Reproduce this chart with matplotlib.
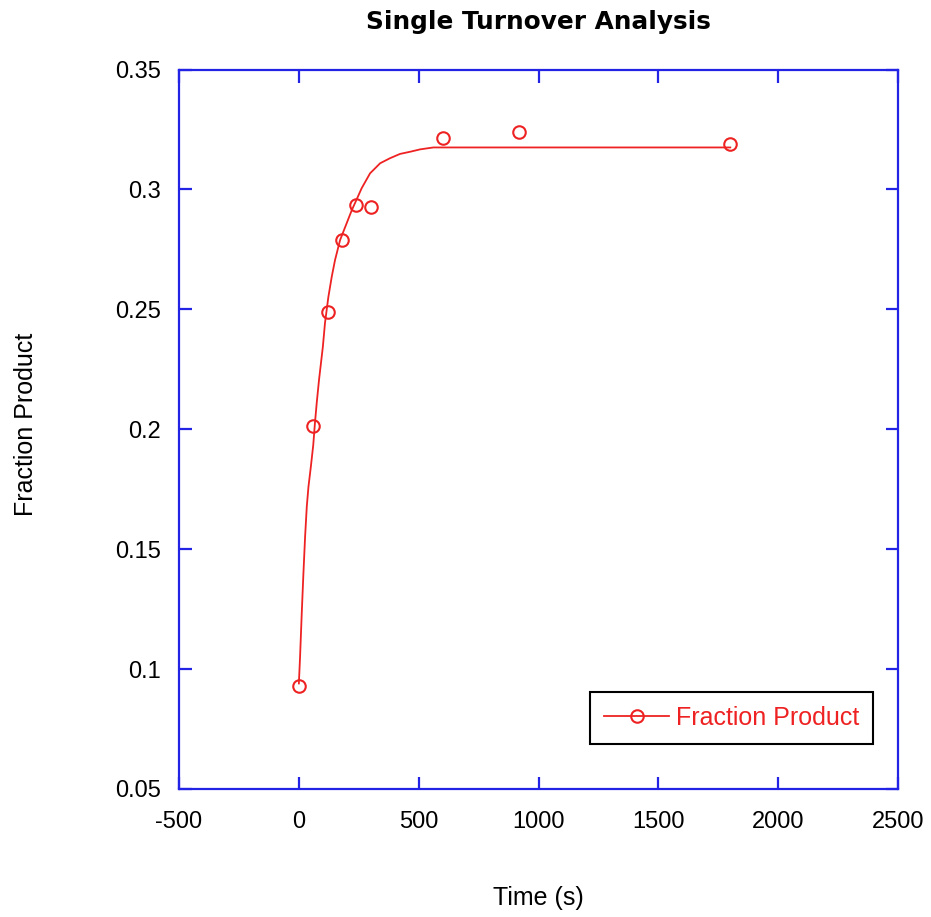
import matplotlib
matplotlib.use("Agg")
import matplotlib.pyplot as plt
from matplotlib.lines import Line2D
from matplotlib.ticker import FuncFormatter

# measured points
time_s = [0, 60, 120, 180, 240, 300, 600, 920, 1800]
fraction_product = [0.093, 0.2015, 0.249, 0.279, 0.2935, 0.2925, 0.3215, 0.324, 0.319]

# fit curve
fit_time = [0, 5, 12, 19, 26, 33, 40, 50, 60, 67, 75, 84, 100, 109, 123, 137,
            151, 172, 221, 241, 262, 297, 339, 380, 422, 464, 506, 561, 756, 1800]
fit_fraction = [0.094, 0.1051, 0.1232, 0.1399, 0.1552, 0.1677, 0.176, 0.1844,
                 0.1934, 0.2025, 0.2115, 0.2205, 0.2343, 0.2443, 0.2551, 0.2635,
                 0.2706, 0.2789, 0.2914, 0.2958, 0.3005, 0.3067, 0.3109, 0.313,
                 0.3148, 0.3157, 0.3167, 0.3175, 0.3175, 0.3175]

x_ticks = [-500, 0, 500, 1000, 1500, 2000, 2500]
y_ticks = [0.05, 0.1, 0.15, 0.2, 0.25, 0.3, 0.35]

RED = "#ee2222"
BLUE = "#2323e6"
FONT = ["Liberation Sans", "DejaVu Sans"]

plt.rcParams["font.family"] = FONT
plt.rcParams["axes.unicode_minus"] = False

fig = plt.figure(figsize=(9.31, 9.17), dpi=100)
ax = fig.add_axes([0.1923, 0.1396, 0.7723, 0.7846])

ax.plot(fit_time, fit_fraction, color=RED, linewidth=1.3)
ax.plot(time_s, fraction_product, linestyle="none", marker="o", markersize=9,
        markerfacecolor="none", markeredgecolor=RED, markeredgewidth=1.5)

ax.set_xlim(-500, 2500)
ax.set_ylim(0.05, 0.35)
ax.set_xticks(x_ticks)
ax.set_yticks(y_ticks)
ax.yaxis.set_major_formatter(FuncFormatter(lambda v, _: f"{v:g}"))

for side in ax.spines.values():
    side.set_color(BLUE)
    side.set_linewidth(1.6)

ax.tick_params(axis="both", which="both", direction="in", length=9, width=1.6,
               color=BLUE, top=True, right=True, labelsize=17)
ax.tick_params(axis="y", pad=13)
ax.tick_params(axis="x", pad=16)

ax.set_title("Single Turnover Analysis", fontsize=17.8, fontweight="bold",
             family=["DejaVu Sans"], pad=29)
fig.text(0.028, 0.5372, "Fraction Product", rotation=90, fontsize=18,
         ha="center", va="center")
fig.text(0.578, 0.0207, "Time (s)", fontsize=18, ha="center", va="center")

handle = Line2D([], [], color=RED, linewidth=1.3, marker="o", markersize=9,
                markerfacecolor="none", markeredgecolor=RED, markeredgewidth=1.5)
leg = ax.legend([handle], ["Fraction Product"], loc="lower right",
                bbox_to_anchor=(0.9652, 0.0625), borderaxespad=0, fontsize=18,
                fancybox=False, framealpha=1, handlelength=2.6, borderpad=0.57,
                handletextpad=0.25)
leg.get_frame().set_edgecolor("black")
leg.get_frame().set_linewidth(1.5)
for txt in leg.get_texts():
    txt.set_color(RED)

fig.savefig("out.png", dpi=100)
